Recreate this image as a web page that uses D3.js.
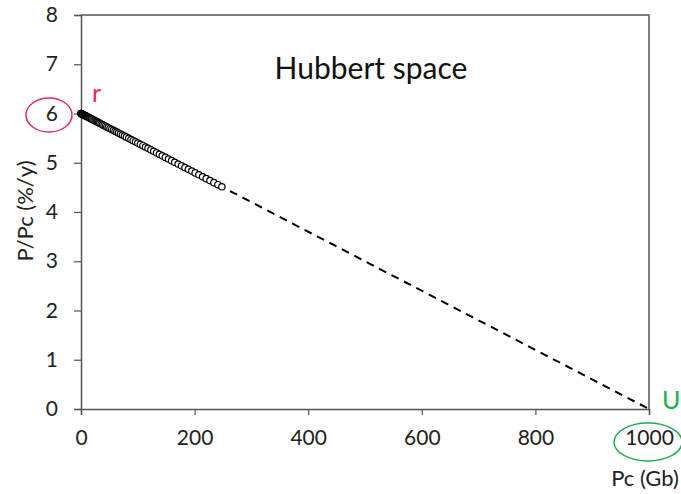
<!DOCTYPE html>
<html><head><meta charset="utf-8">
<script src="https://cdn.jsdelivr.net/npm/d3@7"></script>
<style>body{margin:0;background:#fff}svg{display:block}text{font-family:Lato,"Open Sans",sans-serif}</style>
</head><body><svg id="c" width="681" height="494"></svg>
<script>
const pcValues = [0,0.2,0.5,1,1.5,2,3,4,5,6,7,8,9,10,11.5,13,14.5,16,17.5,19,21,23,25,27,29,31,33,35.5,38,40.5,43,45.5,48,51,54,57,60,63,66,69.5,73,76.5,80,84,88,92,96,100,104.5,109,113.5,118,123,128,133,138,143,148.5,154,159.5,165,171,177,183,189,195,201,207.5,214,220.5,227,234,241,248];
const ppcValues = [6.00,5.999,5.997,5.994,5.991,5.988,5.982,5.976,5.97,5.964,5.958,5.952,5.946,5.94,5.931,5.922,5.913,5.904,5.895,5.886,5.874,5.862,5.85,5.838,5.826,5.814,5.802,5.787,5.772,5.757,5.742,5.727,5.712,5.694,5.676,5.658,5.64,5.622,5.604,5.583,5.562,5.541,5.52,5.496,5.472,5.448,5.424,5.40,5.373,5.346,5.319,5.292,5.262,5.232,5.202,5.172,5.142,5.109,5.076,5.043,5.01,4.974,4.938,4.902,4.866,4.83,4.794,4.755,4.716,4.677,4.638,4.596,4.554,4.512];
const fitLine = [[0,6],[1000,0]];
const xTicks = [0,200,400,600,800,1000];
const yTicks = [0,1,2,3,4,5,6,7,8];

const svg = d3.select("#c");
const x = d3.scaleLinear().domain([0,1000]).range([81,649]);
const y = d3.scaleLinear().domain([0,8]).range([409,15]);
const axisColor = "#555";

svg.append("path").attr("d",`M${x(0)},${y(8)}H${x(1000)}V${y(0)}`).attr("fill","none").attr("stroke",axisColor).attr("stroke-width",1.5);

const xa = svg.append("g").attr("transform",`translate(0,${y(0)})`).call(d3.axisBottom(x).tickValues(xTicks).tickFormat(d3.format("d")).tickSize(6).tickPadding(12));
const ya = svg.append("g").attr("transform",`translate(${x(0)},0)`).call(d3.axisLeft(y).tickValues(yTicks).tickFormat(d3.format("d")).tickSize(7).tickPadding(16));
[xa,ya].forEach(a=>{
  a.select(".domain").attr("stroke",axisColor).attr("stroke-width",1.5);
  a.selectAll(".tick line").attr("stroke",axisColor).attr("stroke-width",1.2);
  a.selectAll(".tick text").attr("fill","#222").style("font-size","21px").style("font-family","Lato");
});
xa.selectAll(".tick text").attr("dy","0.85em");

svg.append("line").attr("x1",x(fitLine[0][0])).attr("y1",y(fitLine[0][1])).attr("x2",x(fitLine[1][0])).attr("y2",y(fitLine[1][1]))
  .attr("stroke","#000").attr("stroke-width",2).attr("stroke-dasharray","8,6");

svg.append("g").selectAll("circle").data(pcValues.map((v,i)=>[v,ppcValues[i]])).join("circle")
  .attr("cx",d=>x(d[0])).attr("cy",d=>y(d[1])).attr("r",3.2)
  .attr("fill","#fff").attr("stroke","#000").attr("stroke-width",1.2);

svg.append("text").attr("x",371).attr("y",79).attr("text-anchor","middle").style("font-size","30px").attr("fill","#111").text("Hubbert space");
svg.append("text").attr("transform","translate(33,211) rotate(-90)").attr("text-anchor","middle").style("font-size","22px").attr("fill","#222").text("P/Pc (%/y)");
svg.append("text").attr("x",645).attr("y",486).attr("text-anchor","middle").style("font-size","22px").attr("fill","#222").text("Pc (Gb)");
svg.append("text").attr("x",92).attr("y",102).style("font-size","25px").attr("fill","#e8266e").text("r");
svg.append("text").attr("x",662).attr("y",409).style("font-size","25px").attr("fill","#1fae4e").text("U");
svg.append("ellipse").attr("cx",49).attr("cy",115).attr("rx",23).attr("ry",17).attr("fill","none").attr("stroke","#e8266e").attr("stroke-width",1.5);
svg.append("ellipse").attr("cx",648).attr("cy",442).attr("rx",34).attr("ry",19).attr("fill","none").attr("stroke","#1fae4e").attr("stroke-width",1.5);
</script></body></html>
